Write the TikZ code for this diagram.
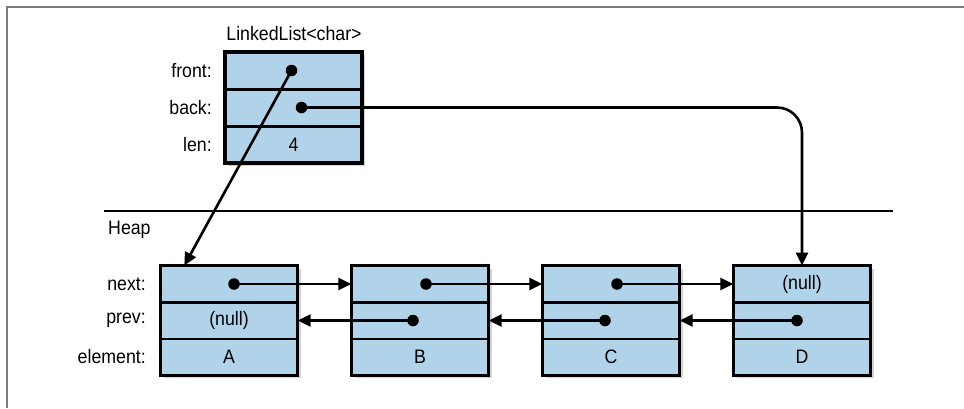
\documentclass[tikz,border=0pt]{standalone}
\usepackage{fontspec}
\setmainfont{Liberation Sans}[FakeStretch=0.91]
\usetikzlibrary{arrows.meta,shadows,calc}
\definecolor{cellblue}{RGB}{177,211,234}
\definecolor{framegray}{RGB}{125,125,125}
\begin{document}
\begin{tikzpicture}[x=1pt,y=-1pt,
  txt/.style={font=\fontsize{19.5}{22}\selectfont},
  box/.style={draw,line width=3.4pt,fill=cellblue,minimum width=137pt,inner sep=0pt,
    drop shadow={shadow xshift=3pt,shadow yshift=-3pt,opacity=0.35}},
  cell/.style={txt,minimum width=137pt,inner sep=0pt},
  lbl/.style={txt,anchor=east,inner sep=0pt},
  divider/.style={line width=2.6pt},
  ptr/.style={line width=2.6pt,-{Triangle[length=13pt,width=12pt]}},
  dot/.style={circle,fill=black,inner sep=0pt,minimum size=11.5pt}
]
\useasboundingbox (0,0) rectangle (964,408);
% frame
\coordinate (fb) at (7,408);
\coordinate (fc) at (7,7);
\coordinate (fr) at (964,7);
\draw[framegray,line width=2pt] (fb) -- (fc) -- (fr);

% LinkedList struct
\node[txt] (title) at (294,34) {LinkedList<char>};
\node[box,minimum height=111pt] (LL) at (293.5,107.5) {};
\node[cell,minimum height=37pt] (LL1) at (293.5,70.5) {};
\node[cell,minimum height=37pt] (LL2) at (293.5,107.5) {};
\node[cell,minimum height=37pt] (LL3) at (293.5,144.5) {4};
\draw[divider] (LL1.south west) -- (LL1.south east);
\draw[divider] (LL2.south west) -- (LL2.south east);
\node[lbl] (lfront) at (212,70.5) {front:};
\node[lbl] (lback) at (212,107.5) {back:};
\node[lbl] (llen) at (212,144.5) {len:};

% separator
\coordinate (hl) at (104,211);
\coordinate (hr) at (893,211);
\draw[line width=2.2pt] (hl) -- (hr);
\node[txt,anchor=west,inner sep=0pt] (heap) at (108,230) {Heap};

% heap labels
\node[lbl] (lnext) at (146,284) {next:};
\node[lbl] (lprev) at (146,320.5) {prev:};
\node[lbl] (lelem) at (146,357) {element:};

% heap nodes
\foreach \n/\x in {A/229,B/420,C/611,D/802}{
  \node[box,minimum height=109.5pt] (\n box) at (\x,320.5) {};
  \node[cell,minimum height=36.5pt] (\n n) at (\x,284) {};
  \node[cell,minimum height=36.5pt] (\n p) at (\x,320.5) {};
  \node[cell,minimum height=36.5pt] (\n e) at (\x,357) {\n};
  \draw[divider] (\n n.south west) -- (\n n.south east);
  \draw[divider] (\n p.south west) -- (\n p.south east);
}
\node[txt] (nullA) at (Ap) {(null)};
\node[txt] (nullD) at (Dn) {(null)};

% dots
\node[dot] (fdot) at ($(LL1.center)+(-2,0)$) {};
\node[dot] (bdot) at ($(LL2.center)+(8,0)$) {};
\node[dot] (And) at ($(An.center)+(5,0)$) {};
\node[dot] (Bnd) at ($(Bn.center)+(6,0)$) {};
\node[dot] (Cnd) at ($(Cn.center)+(6,0)$) {};
\node[dot] (Bpd) at ($(Bp.center)+(-7,0)$) {};
\node[dot] (Cpd) at ($(Cp.center)+(-6,0)$) {};
\node[dot] (Dpd) at ($(Dp.center)+(-5,0)$) {};

% pointers
\coordinate (Atop) at ($(An.north west)+(24,0)$);
\draw[ptr] (fdot.center) -- (Atop);
\draw[ptr,rounded corners=25pt] (bdot.center) -| (Dn.north);
\draw[ptr] (And.center) -- (Bn.west);
\draw[ptr] (Bnd.center) -- (Cn.west);
\draw[ptr] (Cnd.center) -- (Dn.west);
\draw[ptr] (Bpd.center) -- (Ap.east);
\draw[ptr] (Cpd.center) -- (Bp.east);
\draw[ptr] (Dpd.center) -- (Cp.east);
\end{tikzpicture}
\end{document}
